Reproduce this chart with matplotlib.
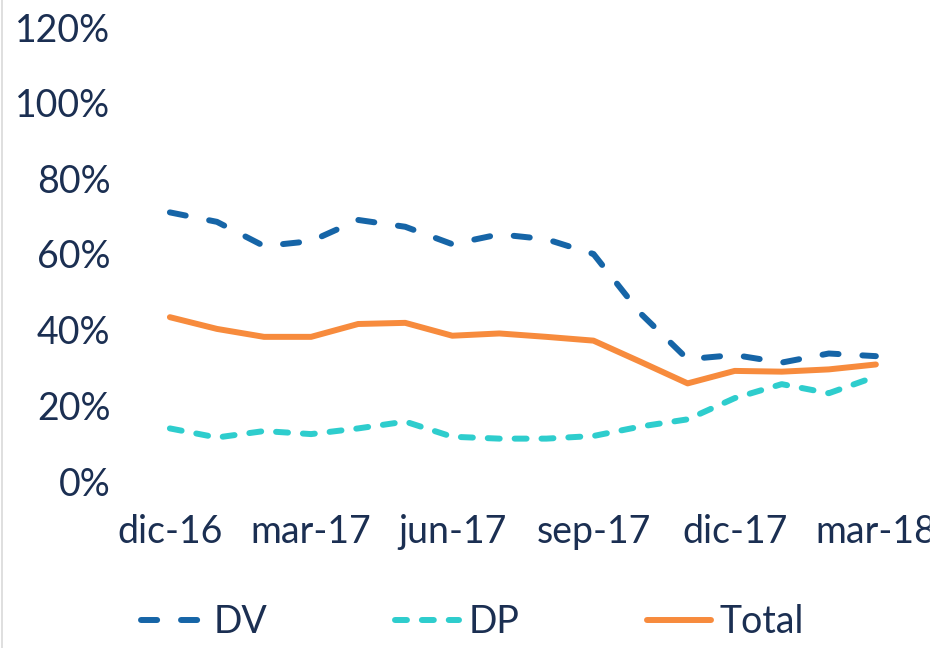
import numpy as np
import matplotlib
matplotlib.use('Agg')
import matplotlib.pyplot as plt
from matplotlib.lines import Line2D
from matplotlib.patches import Rectangle

meses = ['dic-16', 'ene-17', 'feb-17', 'mar-17', 'abr-17', 'may-17', 'jun-17', 'jul-17',
         'ago-17', 'sep-17', 'oct-17', 'nov-17', 'dic-17', 'ene-18', 'feb-18', 'mar-18']
dv = [0.710, 0.685, 0.621, 0.634, 0.690, 0.672, 0.626, 0.652,
      0.639, 0.600, 0.443, 0.322, 0.333, 0.313, 0.337, 0.330]
dp = [0.139, 0.115, 0.132, 0.124, 0.139, 0.157, 0.117, 0.112,
      0.112, 0.119, 0.144, 0.163, 0.219, 0.256, 0.232, 0.276]
total = [0.433, 0.402, 0.381, 0.381, 0.415, 0.418, 0.384, 0.390,
         0.381, 0.371, 0.315, 0.258, 0.291, 0.289, 0.295, 0.308]
ticks_y = [0, 0.2, 0.4, 0.6, 0.8, 1.0, 1.2]

azul = '#1665a7'
turquesa = '#2ecdcd'
naranja = '#f78b3d'
texto = '#1b2f52'

plt.rcParams['font.family'] = ['Lato', 'DejaVu Sans']

fig = plt.figure(figsize=(9.51, 6.48), dpi=100)
ax = fig.add_axes([120/951, (648-481)/648, 810/951, 454/648])

x = np.arange(len(meses))
ax.plot(x, dv, color=azul, lw=4.3, linestyle=(0, (2.7, 4.0)), dash_capstyle='round',
        label='DV')
ax.plot(x, dp, color=turquesa, lw=4.3, linestyle=(0, (2.0, 2.5)), dash_capstyle='round',
        label='DP')
ax.plot(x, total, color=naranja, lw=4.3, solid_capstyle='round', label='Total')

ax.set_xlim(-1.06, 16.15)
ax.set_ylim(0, 1.2)
ax.set_xticks(x[::3])
ax.set_xticklabels(meses[::3])
ax.set_yticks(ticks_y)
ax.set_yticklabels(['%d%%' % round(v*100) for v in ticks_y])
for s in ax.spines.values():
    s.set_visible(False)
ax.tick_params(axis='x', length=0, pad=24, labelsize=27, labelcolor=texto)
ax.tick_params(axis='y', length=0, pad=7, labelsize=27, labelcolor=texto)

leg = fig.legend(loc='lower center', bbox_to_anchor=(0.497, -0.04), ncol=3, frameon=False,
                 fontsize=27, handlelength=1.7, handletextpad=0.25, columnspacing=3.4)
for t in leg.get_texts():
    t.set_color(texto)

# borde izquierdo del grafico
fig.add_artist(Line2D([1.5/951, 1.5/951], [0, 1], color='#d9d9d9', lw=1.2))
# recorte a la derecha
fig.add_artist(Rectangle((930/951, 0), 21/951, 1, color='white', zorder=10))

plt.savefig('out.png', dpi=100)
